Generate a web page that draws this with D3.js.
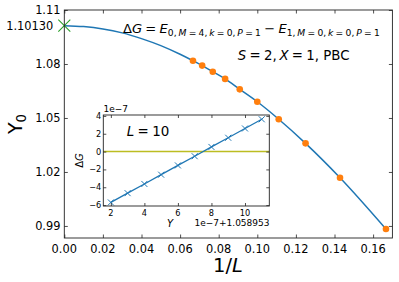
<!DOCTYPE html>
<html>
<head>
<meta charset="utf-8">
<script src="https://cdn.jsdelivr.net/npm/d3@7/dist/d3.min.js"></script>
<style>
body{margin:0;background:#fff;}
text{font-family:"DejaVu Sans",sans-serif;fill:#000;}
</style>
</head>
<body>
<script>
var width = 399, height = 282;

// main panel: Y_0 against 1/L
var sizes = [6, 7, 8, 9, 10, 11, 12, 13, 14, 15];
var y0Values = [0.9883, 1.0168, 1.0359, 1.0493, 1.0590, 1.0659, 1.0717, 1.0757, 1.0791, 1.0818];
var extrapolated = 1.1013;                      // value at 1/L = 0
// fit curve between 1/L = 0 and the first data point
var fitInvL = [0, 0.01, 0.02, 0.03, 0.04, 0.05, 0.06];
var fitY0 = [1.1013, 1.1008, 1.0995, 1.0973, 1.0941, 1.0902, 1.0854];
var xTicks = [0, 0.02, 0.04, 0.06, 0.08, 0.10, 0.12, 0.14, 0.16];
var yTicks = [0.99, 1.02, 1.05, 1.08, 1.11];

// inset: Delta G against Y for L = 10 (units of 1e-7)
var insetY = [2, 3, 4, 5, 6, 7, 8, 9, 10, 11];
var insetDG = [-5.70, -4.66, -3.63, -2.59, -1.55, -0.52, 0.52, 1.55, 2.59, 3.62];
var insetXTicks = [2, 4, 6, 8, 10];
var insetYTicks = [-6, -4, -2, 0, 2, 4];

var blue = "#1f77b4", orange = "#ff7f0e", green = "#2ca02c", olive = "#bcbd22";
var sp = "\u2005", th = "\u2009";               // math spacing around relations / after commas

var svg = d3.select("body").append("svg")
    .attr("width", width)
    .attr("height", height);

var x = d3.scaleLinear().domain([0, 0.17]).range([64.3, 392.4]);
var y = d3.scaleLinear().domain([0.9833, 1.11]).range([238, 10]);

// ticks pointing inward on all four sides
function frame(g, xs, ys, xv, yv, len){
    g.append("g").attr("transform", "translate(0," + ys.range()[0] + ")")
        .call(d3.axisBottom(xs).tickValues(xv).tickSizeInner(-len).tickSizeOuter(0).tickFormat(""));
    g.append("g").attr("transform", "translate(0," + ys.range()[1] + ")")
        .call(d3.axisTop(xs).tickValues(xv).tickSizeInner(-len).tickSizeOuter(0).tickFormat(""));
    g.append("g").attr("transform", "translate(" + xs.range()[0] + ",0)")
        .call(d3.axisLeft(ys).tickValues(yv).tickSizeInner(-len).tickSizeOuter(0).tickFormat(""));
    g.append("g").attr("transform", "translate(" + xs.range()[1] + ",0)")
        .call(d3.axisRight(ys).tickValues(yv).tickSizeInner(-len).tickSizeOuter(0).tickFormat(""));
    g.selectAll(".domain").remove();
    g.selectAll(".tick line").attr("stroke", "#222").attr("stroke-width", 0.8);
    g.append("rect")
        .attr("x", xs.range()[0]).attr("y", ys.range()[1])
        .attr("width", xs.range()[1] - xs.range()[0])
        .attr("height", ys.range()[0] - ys.range()[1])
        .attr("fill", "none").attr("stroke", "#222").attr("stroke-width", 0.9);
}

// append math-like text from pieces: {t, i: italic, s: subscript}
function mathText(sel, pieces, size){
    sel.selectAll("tspan").remove();
    var sub = false;
    pieces.forEach(function(p){
        var ts = sel.append("tspan").text(p.t);
        if (p.i) ts.style("font-style", "italic");
        if (p.s && !sub){ ts.attr("dy", size * 0.22); sub = true; }
        if (!p.s && sub){ ts.attr("dy", -size * 0.22); sub = false; }
        ts.style("font-size", (p.s ? size * 0.7 : size) + "px");
    });
}

// same, but font size chosen so the text spans the given width
function mathTextFit(sel, pieces, size, target){
    mathText(sel, pieces, size);
    var w = sel.node().getComputedTextLength();
    if (w > 0) mathText(sel, pieces, size * target / w);
}

// main curve
var curvePts = fitInvL.map(function(d, i){ return [d, fitY0[i]]; });
sizes.slice().reverse().forEach(function(L, i){
    curvePts.push([1 / L, y0Values[sizes.length - 1 - i]]);
});
var line = d3.line()
    .x(function(d){ return x(d[0]); })
    .y(function(d){ return y(d[1]); })
    .curve(d3.curveMonotoneX);
svg.append("path")
    .attr("d", line(curvePts))
    .attr("fill", "none").attr("stroke", blue).attr("stroke-width", 1.5);

svg.selectAll(".pt").data(sizes).enter().append("circle")
    .attr("class", "pt")
    .attr("cx", function(d){ return x(1 / d); })
    .attr("cy", function(d, i){ return y(y0Values[i]); })
    .attr("r", 3.3)
    .attr("fill", orange);

// extrapolated point
var ex = x(0), ey = y(extrapolated), s = 6;
svg.append("path")
    .attr("d", "M" + (ex - s) + "," + (ey - s) + "L" + (ex + s) + "," + (ey + s) +
               "M" + (ex - s) + "," + (ey + s) + "L" + (ex + s) + "," + (ey - s))
    .attr("stroke", green).attr("stroke-width", 1.1);

var main = svg.append("g");
frame(main, x, y, xTicks, yTicks, 3.5);

// tick labels
svg.selectAll(".xl").data(xTicks).enter().append("text")
    .attr("x", function(d){ return x(d); }).attr("y", 252.5)
    .attr("text-anchor", "middle").style("font-size", "11.4px")
    .text(d3.format(".2f"));
svg.selectAll(".yl").data(yTicks).enter().append("text")
    .attr("x", 60.5).attr("y", function(d){ return y(d) + 4.2; })
    .attr("text-anchor", "end").style("font-size", "11.4px")
    .text(d3.format(".2f"));
svg.append("text")
    .attr("x", 53.3).attr("y", y(extrapolated) + 4.2)
    .attr("text-anchor", "end").style("font-size", "11.4px")
    .text("1.10130");

// axis labels
var xl = svg.append("text").attr("x", 228).attr("y", 272).attr("text-anchor", "middle");
mathText(xl, [{t: "1/"}, {t: "L", i: 1}], 19.5);
var yl = svg.append("text").attr("transform", "translate(22,124) rotate(-90)").attr("text-anchor", "middle");
mathText(yl, [{t: "Y"}, {t: "0", s: 1}], 19);

// annotations
var t1 = svg.append("text").attr("x", 123).attr("y", 33);
mathTextFit(t1, [{t: "\u0394"}, {t: "G", i: 1}, {t: sp + "=" + sp}, {t: "E", i: 1},
    {t: "0," + th, s: 1}, {t: "M", i: 1, s: 1}, {t: sp + "=" + sp + "4," + th, s: 1},
    {t: "k", i: 1, s: 1}, {t: sp + "=" + sp + "0," + th, s: 1},
    {t: "P", i: 1, s: 1}, {t: sp + "=" + sp + "1", s: 1}, {t: sp + "\u2212" + sp}, {t: "E", i: 1},
    {t: "1," + th, s: 1}, {t: "M", i: 1, s: 1}, {t: sp + "=" + sp + "0," + th, s: 1},
    {t: "k", i: 1, s: 1}, {t: sp + "=" + sp + "0," + th, s: 1},
    {t: "P", i: 1, s: 1}, {t: sp + "=" + sp + "1", s: 1}], 15, 257);
var t2 = svg.append("text").attr("x", 237.7).attr("y", 60);
mathTextFit(t2, [{t: "S", i: 1}, {t: sp + "=" + sp + "2," + th}, {t: "X", i: 1},
    {t: sp + "=" + sp + "1, PBC"}], 15, 112);

// ---- inset ----
var ix = d3.scaleLinear().domain([1.55, 11.45]).range([103.3, 269.3]);
var iy = d3.scaleLinear().domain([-6.1, 4.1]).range([206, 115]);
var inset = svg.append("g");
inset.append("rect")
    .attr("x", 103.3).attr("y", 115).attr("width", 166).attr("height", 91)
    .attr("fill", "#fff");

inset.append("line")
    .attr("x1", ix.range()[0]).attr("x2", ix.range()[1])
    .attr("y1", iy(0)).attr("y2", iy(0))
    .attr("stroke", olive).attr("stroke-width", 1.5);

var iline = d3.line()
    .x(function(d){ return ix(d); })
    .y(function(d, i){ return iy(insetDG[i]); });
inset.append("path")
    .attr("d", iline(insetY))
    .attr("fill", "none").attr("stroke", blue).attr("stroke-width", 1.3);
var m = 3;
inset.selectAll(".xm").data(insetY).enter().append("path")
    .attr("d", function(d, i){
        var cx = ix(d), cy = iy(insetDG[i]);
        return "M" + (cx - m) + "," + (cy - m) + "L" + (cx + m) + "," + (cy + m) +
               "M" + (cx - m) + "," + (cy + m) + "L" + (cx + m) + "," + (cy - m);
    })
    .attr("stroke", blue).attr("stroke-width", 1);

frame(inset, ix, iy, insetXTicks, insetYTicks, 3);

inset.selectAll(".ixl").data(insetXTicks).enter().append("text")
    .attr("x", function(d){ return ix(d); }).attr("y", 216)
    .attr("text-anchor", "middle").style("font-size", "8.2px")
    .text(function(d){ return d; });
inset.selectAll(".iyl").data(insetYTicks).enter().append("text")
    .attr("x", 101.3).attr("y", function(d){ return iy(d) + 3; })
    .attr("text-anchor", "end").style("font-size", "8.2px")
    .text(function(d){ return d < 0 ? "\u2212" + (-d) : d; });

inset.append("text").attr("x", 103.5).attr("y", 111.5)
    .style("font-size", "9px").text("1e\u22127");
inset.append("text").attr("x", 269.5).attr("y", 226)
    .attr("text-anchor", "end").style("font-size", "9px").text("1e\u22127+1.058953");
inset.append("text").attr("x", 170).attr("y", 227)
    .attr("text-anchor", "middle").style("font-size", "10px").style("font-style", "italic").text("Y");
var dg = inset.append("text").attr("transform", "translate(83,160.5) rotate(-90)").attr("text-anchor", "middle");
mathText(dg, [{t: "\u0394"}, {t: "G", i: 1}], 10);

var lt = inset.append("text").attr("x", 126.7).attr("y", 135.7);
mathTextFit(lt, [{t: "L", i: 1}, {t: sp + "=" + sp + "10"}], 14, 42.6);
</script>
</body>
</html>
